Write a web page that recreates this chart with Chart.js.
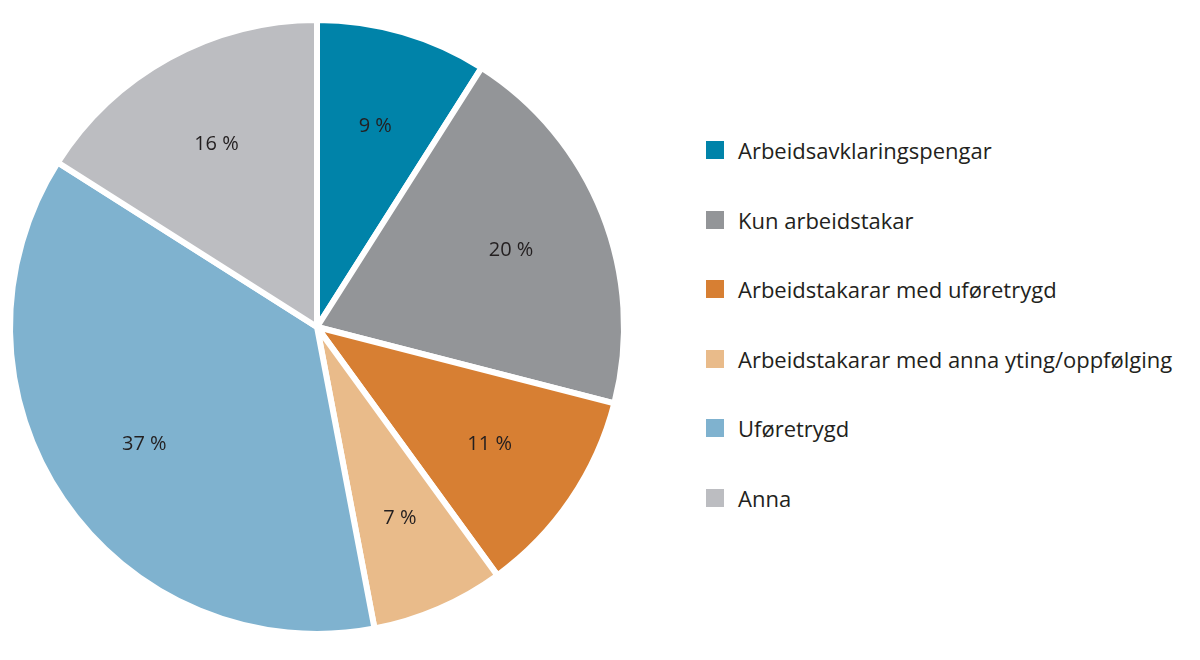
<!DOCTYPE html>
<html>
<head>
<meta charset="utf-8">
<script src="https://cdn.jsdelivr.net/npm/chart.js@4"></script>
<style>
  body { margin: 0; background: #fff; font-family: "Open Sans", sans-serif; }
  #wrap { position: relative; width: 1200px; height: 660px; }
  #box { position: absolute; left: -3px; top: 0; width: 640px; height: 660px; }
  #legend { position: absolute; left: 706px; top: 0; }
  .item { position: absolute; white-space: nowrap; font-size: 22px; color: #231f20; display: flex; align-items: center; }
  .sw { width: 18px; height: 18px; margin-right: 14px; }
</style>
</head>
<body>
<div id="wrap">
  <div id="box"><canvas id="pie"></canvas></div>
  <div id="legend"></div>
</div>
<script>
const kategoriar = ['Arbeidsavklaringspengar', 'Kun arbeidstakar', 'Arbeidstakarar med uføretrygd',
  'Arbeidstakarar med anna yting/oppfølging', 'Uføretrygd', 'Anna'];
const prosent = [9, 20, 11, 7, 37, 16];
const fargar = ['#0083a9', '#939598', '#d77f33', '#e9bb8a', '#7fb2cf', '#bcbdc1'];

// legende
const legend = document.getElementById('legend');
kategoriar.forEach((k, i) => {
  const d = document.createElement('div');
  d.className = 'item';
  d.style.top = (135 + i * 69.5) + 'px';
  d.innerHTML = `<span class="sw" style="background:${fargar[i]}"></span>${k}`;
  legend.appendChild(d);
});

// prosenttekst inne i sektorane
const etikettar = {
  id: 'etikettar',
  afterDatasetsDraw(chart) {
    const ctx = chart.ctx;
    const meta = chart.getDatasetMeta(0);
    ctx.save();
    ctx.font = '20px "Open Sans", sans-serif';
    ctx.fillStyle = '#231f20';
    ctx.textAlign = 'center';
    ctx.textBaseline = 'middle';
    meta.data.forEach((arc, i) => {
      const p = arc.getProps(['x', 'y', 'startAngle', 'endAngle', 'outerRadius']);
      const a = (p.startAngle + p.endAngle) / 2;
      const r = p.outerRadius * 0.68;
      ctx.fillText(prosent[i] + ' %', p.x + Math.cos(a) * r, p.y + Math.sin(a) * r);
    });
    ctx.restore();
  }
};

new Chart(document.getElementById('pie'), {
  type: 'pie',
  data: {
    labels: kategoriar,
    datasets: [{ data: prosent, backgroundColor: fargar, borderColor: '#fff', borderWidth: 6, hoverOffset: 0 }]
  },
  options: {
    responsive: true,
    maintainAspectRatio: false,
    animation: false,
    layout: { padding: { top: 14, bottom: 20, left: 10, right: 10 } },
    plugins: { legend: { display: false }, tooltip: { enabled: false } }
  },
  plugins: [etikettar]
});
</script>
</body>
</html>
